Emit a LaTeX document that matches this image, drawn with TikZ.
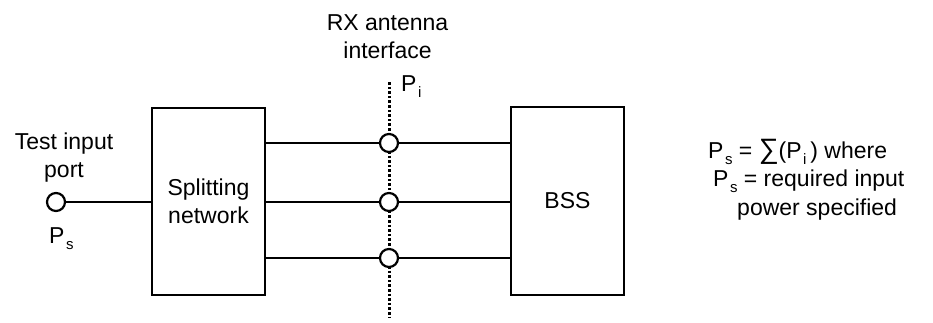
\documentclass[tikz,border=0pt]{standalone}
\usepackage{fontspec}
\setmainfont{Liberation Sans}
\usepackage{tikz}
\usetikzlibrary{positioning,calc}

\newcommand{\idx}[1]{\kern1.5pt\raisebox{-6pt}{\fontsize{15}{15}\selectfont #1}}

\begin{document}
\begin{tikzpicture}[x=1pt,y=-1pt,
        every node/.style={font=\fontsize{23}{28}\selectfont},
        block/.style={draw, line width=2.2pt, minimum width=113pt, inner sep=0pt, align=center},
        port/.style={circle, draw, fill=white, line width=2.2pt, minimum size=18pt, inner sep=0pt},
        wire/.style={line width=2.2pt},
        iface/.style={line width=3pt, dash pattern=on 2.6pt off 2pt}
      ]
        \useasboundingbox (0,0) rectangle (933,322);

        % Bloecke
        \node[block, minimum height=187pt] (split) at (208.5,201.5) {Splitting\\network};
        \node[block, minimum height=188pt] (bss) at (567.5,201) {BSS};

        % Schnittstelle
        \coordinate (ifctop) at (389,82);
        \coordinate (ifcbot) at (389,318);
        \draw[iface] (ifctop) -- (ifcbot);
        \node[align=center, anchor=base] (rxlabel) at (387.5,58) {RX antenna\\interface};
        \node[anchor=base west, inner sep=0pt] (pi) at (401,91) {P\idx{i}};

        \node[port] (ant1) at (389,143) {};
        \node[port] (ant2) at (389,202) {};
        \node[port] (ant3) at (389,258) {};
        \foreach \k in {1,2,3} {
          \draw[wire] (split.east |- ant\k) -- (ant\k);
          \draw[wire] (ant\k) -- (bss.west |- ant\k);
        }

        % Eingang
        \node[port] (in) at (56,202) {};
        \draw[wire] (in) -- (split.west |- in);
        \node[align=center, anchor=base] (inlabel) at (64,177) {Test input\\port};
        \node[anchor=base west, inner sep=0pt] (ps) at (49,243) {P\idx{s}};

        % Formel
        \node[anchor=base west, inner sep=0pt] (eq1) at (708,158)
          {P\idx{s} = {\fontsize{28}{28}\selectfont ∑}(P\idx{i}\,) where};
        \node[anchor=base west, inner sep=0pt] (eq2) at (713,186) {P\idx{s} = required input};
        \node[anchor=base west, inner sep=0pt] (eq3) at (737,215) {power specified};
      \end{tikzpicture}
\end{document}
